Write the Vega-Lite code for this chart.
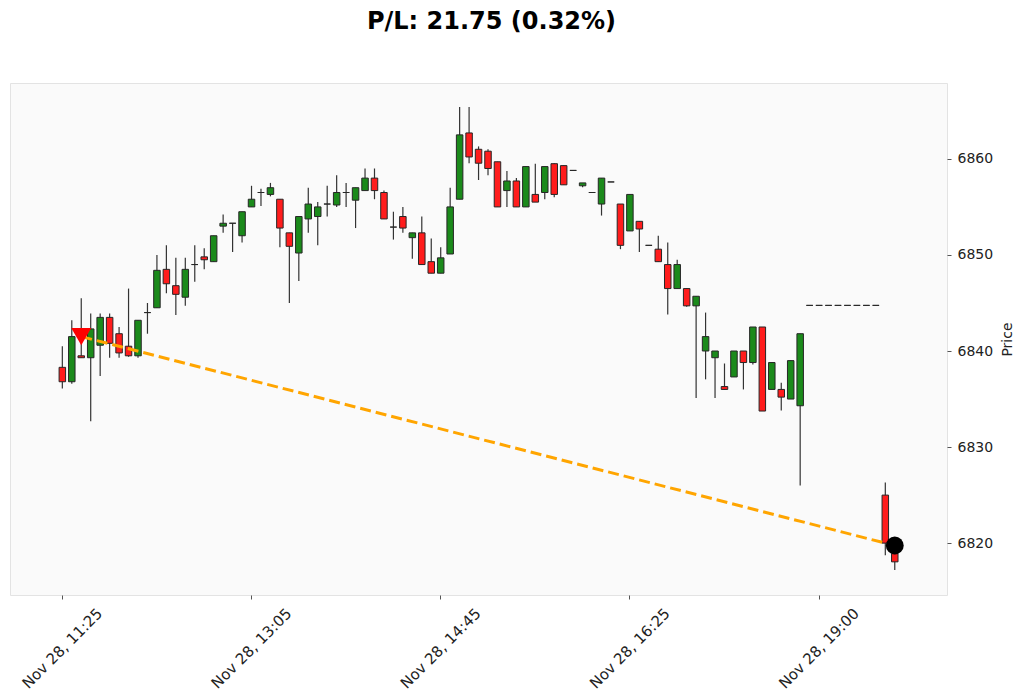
{
  "$schema": "https://vega.github.io/schema/vega-lite/v6.json",
  "width": 937,
  "height": 512,
  "autosize": {"type": "none"},
  "padding": {"left": 10, "top": 83, "right": 77, "bottom": 104},
  "background": "white",
  "title": {
    "text": "P/L: 21.75 (0.32%)",
    "font": "DejaVu Sans",
    "fontSize": 24,
    "fontWeight": "bold",
    "color": "black",
    "anchor": "middle",
    "baseline": "alphabetic",
    "offset": 30,
    "dx": 13
  },
  "config": {
    "font": "DejaVu Sans",
    "view": {"fill": "#fafafa", "stroke": "#e3e3e3", "strokeWidth": 1}
  },
  "data": {
    "values": [
      {"t": "Nov 28, 11:25", "o": 6838.3, "h": 6840.5, "l": 6836.1, "c": 6836.8},
      {"t": "Nov 28, 11:30", "o": 6836.8, "h": 6843.2, "l": 6836.6, "c": 6841.5},
      {"t": "Nov 28, 11:35", "o": 6839.5, "h": 6845.5, "l": 6839.3, "c": 6839.3, "trade": 6841.5, "kind": "entry"},
      {"t": "Nov 28, 11:40", "o": 6839.3, "h": 6843.9, "l": 6832.7, "c": 6842.3},
      {"t": "Nov 28, 11:45", "o": 6840.6, "h": 6843.9, "l": 6837.4, "c": 6843.5},
      {"t": "Nov 28, 11:50", "o": 6843.5, "h": 6843.9, "l": 6839.3, "c": 6840.8},
      {"t": "Nov 28, 11:55", "o": 6841.8, "h": 6842.5, "l": 6839.3, "c": 6839.8},
      {"t": "Nov 28, 12:00", "o": 6840.5, "h": 6846.5, "l": 6839.4, "c": 6839.5},
      {"t": "Nov 28, 12:05", "o": 6839.5, "h": 6843.2, "l": 6839.3, "c": 6843.2},
      {"t": "Nov 28, 12:10", "o": 6844.0, "h": 6845.0, "l": 6841.8, "c": 6844.0},
      {"t": "Nov 28, 12:15", "o": 6844.5, "h": 6850.0, "l": 6844.5, "c": 6848.4},
      {"t": "Nov 28, 12:20", "o": 6848.5, "h": 6851.0, "l": 6846.0, "c": 6847.0},
      {"t": "Nov 28, 12:25", "o": 6846.8, "h": 6849.7, "l": 6843.75, "c": 6845.9},
      {"t": "Nov 28, 12:30", "o": 6845.6, "h": 6849.7, "l": 6844.7, "c": 6848.5},
      {"t": "Nov 28, 12:35", "o": 6849.0, "h": 6851.0, "l": 6847.2, "c": 6849.0},
      {"t": "Nov 28, 12:40", "o": 6849.8, "h": 6850.7, "l": 6848.5, "c": 6849.5},
      {"t": "Nov 28, 12:45", "o": 6849.3, "h": 6852.0, "l": 6849.3, "c": 6852.0},
      {"t": "Nov 28, 12:50", "o": 6853.0, "h": 6854.2, "l": 6852.3, "c": 6853.3},
      {"t": "Nov 28, 12:55", "o": 6853.3, "h": 6853.3, "l": 6850.3, "c": 6853.3},
      {"t": "Nov 28, 13:00", "o": 6852.0, "h": 6854.5, "l": 6851.3, "c": 6854.5},
      {"t": "Nov 28, 13:05", "o": 6855.0, "h": 6857.2, "l": 6855.0, "c": 6855.8},
      {"t": "Nov 28, 13:10", "o": 6856.5, "h": 6856.9, "l": 6855.1, "c": 6856.5},
      {"t": "Nov 28, 13:15", "o": 6856.3, "h": 6857.5, "l": 6856.1, "c": 6857.0},
      {"t": "Nov 28, 13:20", "o": 6855.8, "h": 6855.8, "l": 6850.8, "c": 6852.8},
      {"t": "Nov 28, 13:25", "o": 6852.3, "h": 6852.3, "l": 6845.0, "c": 6850.9},
      {"t": "Nov 28, 13:30", "o": 6850.2, "h": 6854.0, "l": 6847.3, "c": 6854.0},
      {"t": "Nov 28, 13:35", "o": 6853.75, "h": 6857.0, "l": 6852.3, "c": 6855.3},
      {"t": "Nov 28, 13:40", "o": 6854.0, "h": 6855.5, "l": 6851.0, "c": 6855.0},
      {"t": "Nov 28, 13:45", "o": 6855.3, "h": 6857.2, "l": 6854.0, "c": 6855.3},
      {"t": "Nov 28, 13:50", "o": 6855.2, "h": 6858.3, "l": 6855.0, "c": 6856.5},
      {"t": "Nov 28, 13:55", "o": 6856.5, "h": 6857.5, "l": 6855.0, "c": 6856.5},
      {"t": "Nov 28, 14:00", "o": 6855.7, "h": 6857.0, "l": 6852.8, "c": 6857.0},
      {"t": "Nov 28, 14:05", "o": 6856.7, "h": 6859.0, "l": 6856.7, "c": 6858.0},
      {"t": "Nov 28, 14:10", "o": 6858.0, "h": 6859.0, "l": 6855.8, "c": 6856.7},
      {"t": "Nov 28, 14:15", "o": 6856.5, "h": 6856.7, "l": 6853.75, "c": 6853.75},
      {"t": "Nov 28, 14:20", "o": 6852.9, "h": 6854.5, "l": 6851.6, "c": 6852.9},
      {"t": "Nov 28, 14:25", "o": 6854.0, "h": 6855.0, "l": 6852.3, "c": 6852.8},
      {"t": "Nov 28, 14:30", "o": 6851.8, "h": 6852.3, "l": 6849.6, "c": 6852.3},
      {"t": "Nov 28, 14:35", "o": 6852.3, "h": 6854.0, "l": 6849.0, "c": 6849.0},
      {"t": "Nov 28, 14:40", "o": 6849.3, "h": 6851.7, "l": 6848.1, "c": 6848.1},
      {"t": "Nov 28, 14:45", "o": 6848.1, "h": 6850.8, "l": 6848.1, "c": 6849.7},
      {"t": "Nov 28, 14:50", "o": 6850.1, "h": 6857.0, "l": 6850.1, "c": 6855.0},
      {"t": "Nov 28, 14:55", "o": 6855.8, "h": 6865.4, "l": 6855.8, "c": 6862.5},
      {"t": "Nov 28, 15:00", "o": 6862.7, "h": 6865.4, "l": 6859.55, "c": 6860.2},
      {"t": "Nov 28, 15:05", "o": 6861.0, "h": 6861.3, "l": 6857.8, "c": 6859.55},
      {"t": "Nov 28, 15:10", "o": 6860.8, "h": 6861.0, "l": 6858.3, "c": 6859.0},
      {"t": "Nov 28, 15:15", "o": 6859.7, "h": 6859.7, "l": 6855.0, "c": 6855.0},
      {"t": "Nov 28, 15:20", "o": 6856.7, "h": 6858.75, "l": 6855.0, "c": 6857.7},
      {"t": "Nov 28, 15:25", "o": 6857.7, "h": 6858.0, "l": 6855.0, "c": 6855.0},
      {"t": "Nov 28, 15:30", "o": 6855.0, "h": 6859.2, "l": 6855.0, "c": 6859.2},
      {"t": "Nov 28, 15:35", "o": 6856.3, "h": 6859.5, "l": 6855.5, "c": 6855.5},
      {"t": "Nov 28, 15:40", "o": 6856.5, "h": 6859.2, "l": 6855.8, "c": 6859.2},
      {"t": "Nov 28, 15:45", "o": 6859.5, "h": 6859.55, "l": 6856.0, "c": 6856.3},
      {"t": "Nov 28, 15:50", "o": 6859.3, "h": 6859.3, "l": 6857.3, "c": 6857.3},
      {"t": "Nov 28, 15:55", "o": 6858.8, "h": 6858.8, "l": 6858.8, "c": 6858.8},
      {"t": "Nov 28, 16:00", "o": 6857.2, "h": 6857.5, "l": 6857.05, "c": 6857.5},
      {"t": "Nov 28, 16:05", "o": 6856.5, "h": 6856.5, "l": 6856.5, "c": 6856.5},
      {"t": "Nov 28, 16:10", "o": 6855.3, "h": 6858.0, "l": 6854.1, "c": 6858.0},
      {"t": "Nov 28, 16:15", "o": 6857.6, "h": 6857.6, "l": 6857.6, "c": 6857.6},
      {"t": "Nov 28, 16:20", "o": 6855.3, "h": 6855.3, "l": 6850.6, "c": 6851.0},
      {"t": "Nov 28, 16:25", "o": 6852.5, "h": 6856.3, "l": 6852.5, "c": 6856.3},
      {"t": "Nov 28, 16:30", "o": 6853.5, "h": 6853.5, "l": 6850.3, "c": 6852.7},
      {"t": "Nov 28, 16:35", "o": 6851.0, "h": 6851.0, "l": 6851.0, "c": 6851.0},
      {"t": "Nov 28, 16:40", "o": 6850.6, "h": 6852.0, "l": 6849.3, "c": 6849.3},
      {"t": "Nov 28, 16:45", "o": 6849.0, "h": 6851.3, "l": 6843.8, "c": 6846.5},
      {"t": "Nov 28, 16:50", "o": 6846.5, "h": 6849.5, "l": 6846.5, "c": 6849.0},
      {"t": "Nov 28, 16:55", "o": 6846.5, "h": 6846.5, "l": 6844.6, "c": 6844.7},
      {"t": "Nov 28, 17:00", "o": 6844.7, "h": 6845.7, "l": 6835.1, "c": 6845.7},
      {"t": "Nov 28, 18:00", "o": 6840.0, "h": 6844.0, "l": 6837.05, "c": 6841.5},
      {"t": "Nov 28, 18:05", "o": 6839.3, "h": 6840.0, "l": 6835.1, "c": 6840.0},
      {"t": "Nov 28, 18:10", "o": 6836.3, "h": 6838.7, "l": 6836.0, "c": 6836.0},
      {"t": "Nov 28, 18:15", "o": 6837.3, "h": 6840.0, "l": 6837.3, "c": 6840.0},
      {"t": "Nov 28, 18:20", "o": 6840.0, "h": 6840.0, "l": 6836.0, "c": 6838.8},
      {"t": "Nov 28, 18:25", "o": 6838.8, "h": 6842.5, "l": 6838.6, "c": 6842.5},
      {"t": "Nov 28, 18:30", "o": 6842.5, "h": 6842.5, "l": 6833.75, "c": 6833.75},
      {"t": "Nov 28, 18:35", "o": 6836.0, "h": 6838.8, "l": 6836.0, "c": 6838.8},
      {"t": "Nov 28, 18:40", "o": 6836.0, "h": 6836.7, "l": 6833.8, "c": 6835.2},
      {"t": "Nov 28, 18:45", "o": 6835.0, "h": 6839.0, "l": 6835.0, "c": 6839.0},
      {"t": "Nov 28, 18:50", "o": 6834.3, "h": 6841.8, "l": 6826.0, "c": 6841.8},
      {"t": "Nov 28, 18:55", "o": 6844.75, "h": 6844.75, "l": 6844.75, "c": 6844.75},
      {"t": "Nov 28, 19:00", "o": 6844.75, "h": 6844.75, "l": 6844.75, "c": 6844.75},
      {"t": "Nov 28, 19:05", "o": 6844.75, "h": 6844.75, "l": 6844.75, "c": 6844.75},
      {"t": "Nov 28, 19:10", "o": 6844.75, "h": 6844.75, "l": 6844.75, "c": 6844.75},
      {"t": "Nov 28, 19:15", "o": 6844.75, "h": 6844.75, "l": 6844.75, "c": 6844.75},
      {"t": "Nov 28, 19:20", "o": 6844.75, "h": 6844.75, "l": 6844.75, "c": 6844.75},
      {"t": "Nov 28, 19:25", "o": 6844.75, "h": 6844.75, "l": 6844.75, "c": 6844.75},
      {"t": "Nov 28, 19:30", "o": 6844.75, "h": 6844.75, "l": 6844.75, "c": 6844.75},
      {"t": "Nov 28, 19:35", "o": 6825.0, "h": 6826.3, "l": 6818.75, "c": 6820.0},
      {"t": "Nov 28, 19:40", "o": 6818.9, "h": 6819.7, "l": 6817.2, "c": 6818.05, "trade": 6819.75, "kind": "exit"}
    ]
  },
  "encoding": {
    "x": {
      "field": "t",
      "type": "ordinal",
      "sort": null,
      "scale": {"paddingInner": 0, "paddingOuter": 0, "range": [47.6, 889.5]},
      "axis": {
        "title": null,
        "values": ["Nov 28, 11:25", "Nov 28, 13:05", "Nov 28, 14:45", "Nov 28, 16:25", "Nov 28, 19:00"],
        "domain": false,
        "ticks": true,
        "tickSize": 4,
        "tickColor": "#555555",
        "labelAngle": -45,
        "labelAlign": "center",
        "labelBaseline": "middle",
        "labelPadding": 49,
        "labelFontSize": 15,
        "labelColor": "#222222",
        "labelOverlap": false,
        "labelBound": false,
        "labelFlush": false
      }
    }
  },
  "layer": [
    {
      "mark": {"type": "rule", "color": "#333333", "strokeWidth": 1.2},
      "encoding": {
        "y": {
          "field": "l",
          "type": "quantitative",
          "scale": {"domain": [6814.6, 6867.9], "nice": false, "zero": false},
          "axis": {
            "orient": "right",
            "values": [6820, 6830, 6840, 6850, 6860],
            "format": "d",
            "grid": false,
            "domain": false,
            "tickSize": 4,
            "tickColor": "#555555",
            "labelPadding": 6,
            "labelFontSize": 14,
            "labelColor": "#222222",
            "title": "Price",
            "titleFontSize": 14,
            "titleFontWeight": "normal",
            "titleColor": "#222222",
            "titleAngle": -90,
            "titlePadding": 22
          }
        },
        "y2": {"field": "h"}
      }
    },
    {
      "mark": {"type": "bar", "width": 6.5, "stroke": "#262626", "strokeWidth": 1},
      "encoding": {
        "y": {"field": "o", "type": "quantitative"},
        "y2": {"field": "c"},
        "fill": {
          "condition": {"test": "datum.c >= datum.o", "value": "#1b8a1b"},
          "value": "#ff1c1c"
        }
      }
    },
    {
      "transform": [{"filter": "isValid(datum.trade)"}],
      "mark": {"type": "line", "color": "#ffa500", "strokeWidth": 3, "strokeDash": [11, 5]},
      "encoding": {
        "y": {"field": "trade", "type": "quantitative"}
      }
    },
    {
      "transform": [{"filter": "datum.kind == 'entry'"}],
      "mark": {"type": "point", "shape": "triangle-down", "filled": true, "color": "#ff0000", "opacity": 1, "size": 400},
      "encoding": {
        "y": {"field": "trade", "type": "quantitative"}
      }
    },
    {
      "transform": [{"filter": "datum.kind == 'exit'"}],
      "mark": {"type": "point", "shape": "circle", "filled": true, "color": "#000000", "opacity": 1, "size": 320},
      "encoding": {
        "y": {"field": "trade", "type": "quantitative"}
      }
    }
  ]
}
